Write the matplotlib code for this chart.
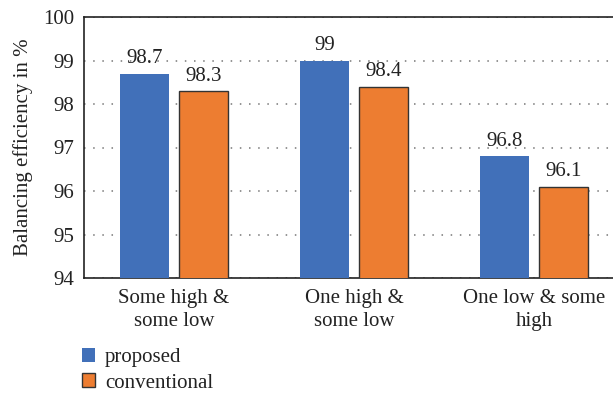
import matplotlib
matplotlib.use("Agg")
import matplotlib.pyplot as plt
import numpy as np

categories = ["Some high &\nsome low", "One high &\nsome low", "One low & some\nhigh"]
proposed = [98.7, 99.0, 96.8]
conventional = [98.3, 98.4, 96.1]
proposed_labels = ["98.7", "99", "96.8"]
conventional_labels = ["98.3", "98.4", "96.1"]
yticks = [94, 95, 96, 97, 98, 99, 100]

BLUE = "#4170b9"
ORANGE = "#ed7d31"
FS = 15

plt.rcParams["font.family"] = ["Liberation Serif", "DejaVu Serif"]
plt.rcParams["font.size"] = FS

fig = plt.figure(figsize=(6.13, 4.0), dpi=100)
ax = fig.add_axes([84 / 613, 1 - 278 / 400, 540 / 613, 261 / 400])

x = np.arange(len(categories))
w = 0.272
off = 0.163
b1 = ax.bar(x - off, proposed, w, color=BLUE, zorder=3)
b2 = ax.bar(x + off, conventional, w, color=ORANGE, edgecolor="#333333", linewidth=1.0, zorder=3)

for rect, lab in zip(b1, proposed_labels):
    ax.text(rect.get_x() + rect.get_width() / 2, rect.get_height() + 0.12, lab,
            ha="center", va="bottom", color="#222222", fontsize=FS)
for rect, lab in zip(b2, conventional_labels):
    ax.text(rect.get_x() + rect.get_width() / 2, rect.get_height() + 0.12, lab,
            ha="center", va="bottom", color="#222222", fontsize=FS)

ax.set_xlim(-0.5, 2.5)
ax.set_ylim(94, 100)
ax.set_yticks(yticks)
ax.set_xticks(x)
ax.set_xticklabels(categories, color="#222222", linespacing=1.3)
ax.tick_params(axis="both", length=0, labelsize=FS, colors="#222222")
ax.tick_params(axis="y", pad=7)
ax.tick_params(axis="x", pad=8)
ax.yaxis.grid(True, linestyle=(0, (1, 5)), color="#777777", linewidth=1.1, zorder=0)
ax.set_ylabel("Balancing efficiency in %", color="#222222", fontsize=FS, labelpad=7)

for s in ["left", "bottom", "top"]:
    ax.spines[s].set_color("#222222")
    ax.spines[s].set_linewidth(1.2)
ax.spines["right"].set_visible(False)

fig.legend([b1, b2], ["proposed", "conventional"], loc="upper left",
           bbox_to_anchor=(82 / 613, 1 - 348 / 400), frameon=False,
           handlelength=0.63, handleheight=0.63, handletextpad=0.48,
           labelspacing=0.3, fontsize=FS, labelcolor="#222222",
           borderpad=0.0, borderaxespad=0.0)

fig.savefig("out.png", dpi=100)
